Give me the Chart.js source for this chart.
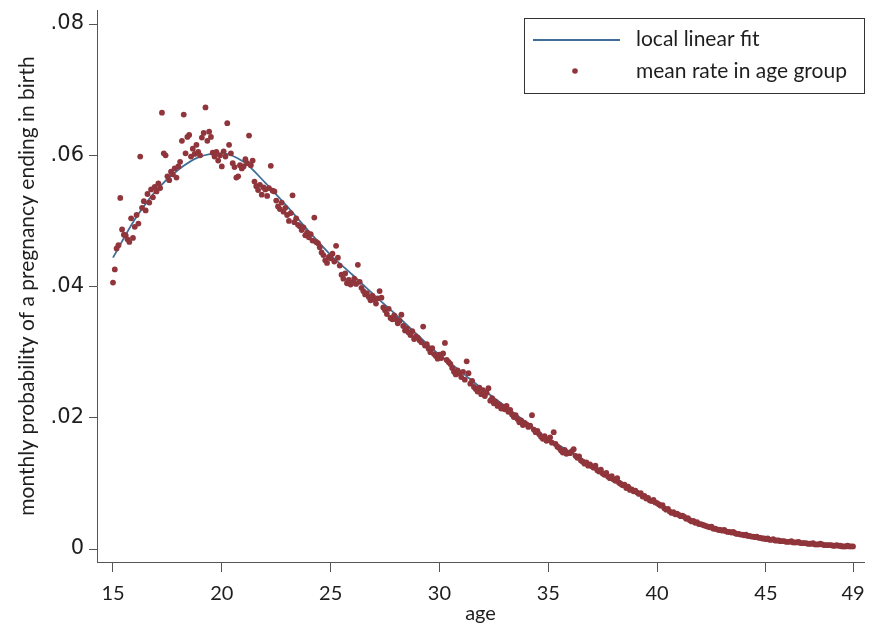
<!DOCTYPE html>
<html>
<head>
  <style>
    html,
    body {
      margin: 0;
      background: #fff;
      overflow: hidden;
    }
  </style>
</head>
<body>
  <canvas id="chart1" width="872" height="628"></canvas>
</body>
<script src="https://cdn.jsdelivr.net/npm/chart.js@4"></script>
<script>
  // ages run monthly from 15.0 to 49.0
  const firstAge = 15
  const xTicks = [15, 20, 25, 30, 35, 40, 45, 49]
  const yTicks = [0, 0.02, 0.04, 0.06, 0.08]

  // mean monthly rate in each age group (one row per year of age, 12 months)
  const monthlyRate = [
    .0406, .0426, .0458, .0463, .0535, .0487, .0479, .0478, .0472, .0468, .0504, .0474, // 15
    .0491, .0509, .0496, .0598, .0520, .0530, .0516, .0541, .0528, .0548, .0536, .0552, // 16
    .0545, .0557, .0550, .0665, .0603, .0600, .0568, .0562, .0575, .0571, .0580, .0566, // 17
    .0583, .0590, .0622, .0662, .0603, .0628, .0631, .0598, .0610, .0602, .0616, .0605, // 18
    .0600, .0627, .0634, .0673, .0622, .0636, .0628, .0604, .0598, .0605, .0592, .0600, // 19
    .0583, .0606, .0598, .0649, .0616, .0603, .0588, .0582, .0566, .0568, .0585, .0580, // 20
    .0583, .0594, .0588, .0630, .0585, .0592, .0560, .0553, .0547, .0555, .0540, .0551, // 21
    .0548, .0538, .0550, .0584, .0546, .0545, .0531, .0522, .0518, .0528, .0514, .0520, // 22
    .0509, .0500, .0512, .0539, .0498, .0504, .0494, .0492, .0486, .0490, .0478, .0482, // 23
    .0475, .0480, .0470, .0505, .0468, .0466, .0460, .0452, .0448, .0440, .0436, .0445, // 24
    .0443, .0450, .0438, .0462, .0444, .0432, .0418, .0412, .0420, .0405, .0410, .0403, // 25
    .0406, .0412, .0404, .0433, .0407, .0398, .0393, .0388, .0390, .0384, .0379, .0386, // 26
    .0380, .0374, .0382, .0393, .0383, .0368, .0364, .0358, .0366, .0352, .0350, .0356, // 27
    .0350, .0344, .0348, .0357, .0340, .0333, .0336, .0330, .0326, .0332, .0320, .0324, // 28
    .0322, .0318, .0315, .0339, .0310, .0312, .0305, .0300, .0306, .0297, .0294, .0290, // 29
    .0296, .0291, .0298, .0314, .0288, .0285, .0282, .0276, .0270, .0266, .0272, .0268, // 30
    .0262, .0270, .0258, .0286, .0268, .0252, .0256, .0247, .0244, .0240, .0246, .0236, // 31
    .0242, .0233, .0238, .0245, .0226, .0230, .0222, .0224, .0218, .0220, .0214, .0217, // 32
    .0213, .0218, .0209, .0212, .0205, .0201, .0204, .0198, .0193, .0196, .0189, .0192, // 33
    .0190, .0186, .0188, .0204, .0182, .0178, .0180, .0175, .0171, .0168, .0172, .0165, // 34
    .0166, .0170, .0162, .0178, .0160, .0156, .0154, .0150, .0147, .0151, .0145, .0146, // 35
    .0146, .0149, .0152, .0142, .0139, .0141, .0135, .0133, .0130, .0132, .0127, .0129, // 36
    .0126, .0124, .0127, .0120, .0118, .0121, .0115, .0113, .0116, .0110, .0108, .0111, // 37
    .0106, .0104, .0108, .0101, .0099, .0097, .0098, .0093, .0095, .0090, .0091, .0088, // 38
    .0089, .0086, .0084, .0085, .0080, .0081, .0077, .0078, .0074, .0073, .0075, .0071, // 39
    .0070, .0068, .0066, .0067, .0062, .0060, .0061, .0057, .0055, .0056, .0053, .0054, // 40
    .0052, .0050, .0051, .0049, .0046, .0047, .0044, .0042, .0043, .0040, .0041, .0038, // 41
    .0038, .0037, .0036, .0035, .0034, .0033, .0034, .0031, .0031, .0030, .0029, .0029, // 42
    .0028, .0029, .0027, .0026, .0026, .0025, .0026, .0024, .0023, .0023, .0022, .0022, // 43
    .0021, .0022, .0020, .0020, .0019, .0019, .0018, .0019, .0017, .0017, .0016, .0016, // 44
    .0015, .0016, .0014, .0014, .0015, .0013, .0013, .0013, .0012, .0012, .0012, .0011, // 45
    .0011, .0011, .0012, .0010, .0010, .0010, .0011, .0009, .0009, .0009, .0009, .0008, // 46
    .0008, .0008, .0009, .0007, .0007, .0007, .0008, .0007, .0006, .0006, .0006, .0006, // 47
    .0006, .0005, .0005, .0006, .0005, .0005, .0004, .0004, .0004, .0005, .0004, .0004, // 48
    .0004 // 49
  ]

  // local linear fit, read at whole years
  const fitAge = [15, 16, 17, 18, 19, 20, 21, 22, 23, 24, 25, 26, 27, 28, 29, 30, 31,
    32, 33, 34, 35, 36, 37, 38, 39, 40, 41, 42, 43, 44, 45, 46, 47, 48, 49]
  const fitValue = [.0444, .0502, .0547, .0578, .0598, .0603, .0590, .0558, .0522, .0484,
    .0448, .0418, .0387, .0357, .0326, .0296, .0270, .0243, .0218, .0193, .0168, .0148,
    .0128, .0109, .0090, .0070, .0052, .0038, .0028, .0021, .0015, .0011, .0007, .0005, .0003]

  const dotColor = '#90353B'
  const fitColor = '#3f6f98'
  const textColor = '#1e1e1e'
  const axisColor = '#555'

  const legendBox = {
    id: 'legendBox',
    afterDraw(chart) {
      const ctx = chart.ctx
      ctx.save()
      ctx.strokeStyle = '#333'
      ctx.lineWidth = 1
      ctx.strokeRect(524.5, 18.5, 340, 75)
      ctx.strokeStyle = fitColor
      ctx.lineWidth = 2
      ctx.beginPath()
      ctx.moveTo(533, 40)
      ctx.lineTo(620, 40)
      ctx.stroke()
      ctx.fillStyle = dotColor
      ctx.beginPath()
      ctx.arc(575, 71, 2.8, 0, Math.PI * 2)
      ctx.fill()
      ctx.fillStyle = textColor
      ctx.font = '21px Lato'
      ctx.textBaseline = 'middle'
      ctx.fillText('local linear fit', 636, 39)
      ctx.fillText('mean rate in age group', 636, 71)
      ctx.restore()
    }
  }

  // keep the plot area exactly where it is in the picture
  function noPad(s) {
    s.paddingTop = 0
    s.paddingBottom = 0
    s.paddingLeft = 0
    s.paddingRight = 0
  }

  new Chart(document.getElementById('chart1'), {
    type: 'scatter',
    data: {
      datasets: [
        {
          label: 'mean rate in age group',
          data: monthlyRate.map((r, i) => ({ x: firstAge + i / 12, y: r })),
          backgroundColor: dotColor,
          borderWidth: 0,
          pointRadius: 2.9
        },
        {
          type: 'line',
          label: 'local linear fit',
          data: fitAge.map((a, i) => ({ x: a, y: fitValue[i] })),
          borderColor: fitColor,
          borderWidth: 1.8,
          pointRadius: 0,
          cubicInterpolationMode: 'monotone',
          fill: false
        }
      ]
    },
    plugins: [legendBox],
    options: {
      responsive: false,
      animation: false,
      layout: {
        padding: { top: 10, right: 8, left: 0, bottom: 0 }
      },
      plugins: {
        legend: { display: false },
        tooltip: { enabled: false }
      },
      scales: {
        x: {
          type: 'linear',
          min: 14.265,
          max: 49.505,
          afterFit: s => { s.height = 66; noPad(s) },
          afterBuildTicks: s => { s.ticks = xTicks.map(v => ({ value: v })) },
          grid: {
            drawOnChartArea: false,
            tickLength: 10,
            tickColor: axisColor
          },
          border: { display: true, color: axisColor, width: 1 },
          ticks: {
            padding: 10,
            color: textColor,
            font: { family: 'Lato', size: 20 },
            autoSkip: false,
            maxRotation: 0
          },
          title: {
            display: true,
            text: 'age',
            color: textColor,
            font: { family: 'Lato', size: 20 },
            padding: { bottom: 2 }
          }
        },
        y: {
          min: -0.00198,
          max: 0.08214,
          afterFit: s => { s.width = 97; noPad(s) },
          afterBuildTicks: s => { s.ticks = yTicks.map(v => ({ value: v })) },
          grid: {
            drawOnChartArea: false,
            tickLength: 8,
            tickColor: axisColor
          },
          border: { display: true, color: axisColor, width: 1 },
          ticks: {
            padding: 5,
            color: textColor,
            font: { family: 'DejaVu Sans', size: 21 },
            callback: v => (v === 0 ? '0' : v.toFixed(2).replace(/^0/, ''))
          },
          title: {
            display: true,
            text: 'monthly probability of a pregnancy ending in birth',
            color: textColor,
            font: { family: 'Lato', size: 21 },
            padding: { top: 15 }
          }
        }
      }
    }
  })
</script>
</html>
